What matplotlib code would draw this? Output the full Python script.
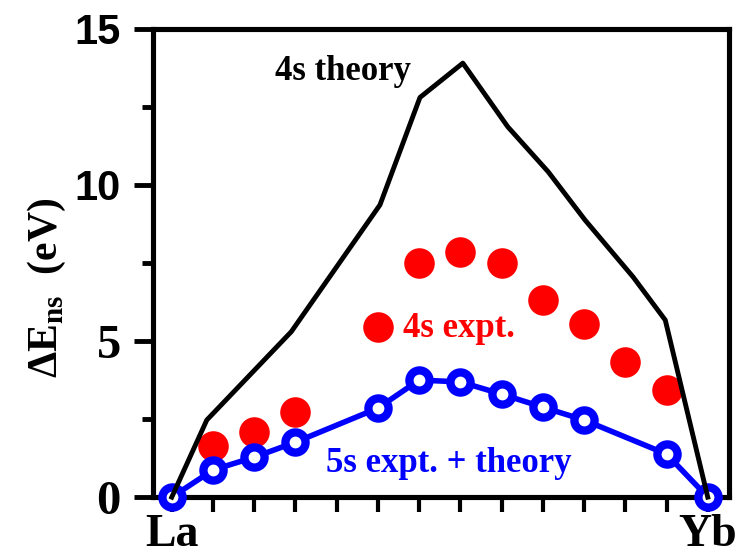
import matplotlib
matplotlib.use("Agg")
import matplotlib.pyplot as plt
import numpy as np

plt.rcParams['font.family'] = ['Liberation Serif', 'DejaVu Serif']
plt.rcParams['font.weight'] = 'bold'
plt.rcParams['mathtext.fontset'] = 'custom'
plt.rcParams['mathtext.rm'] = 'Liberation Serif:bold'
plt.rcParams['mathtext.bf'] = 'Liberation Serif:bold'

# elements La..Yb -> index 0..13
elements = ['La', 'Ce', 'Pr', 'Nd', 'Pm', 'Sm', 'Eu', 'Gd', 'Tb', 'Dy', 'Ho', 'Er', 'Tm', 'Yb']

# 4s theory (black line)
theory4s_x = [0, 0.85, 2.9, 5.05, 6.02, 7.06, 8.15, 9.13, 10.02, 11.19, 11.97, 13]
theory4s_y = [0, 2.47, 5.3, 9.36, 12.8, 13.9, 11.86, 10.42, 8.88, 7.05, 5.67, 0]

# 4s expt. (red dots)
expt4s_x = [1, 2, 3, 5, 6, 7, 8, 9, 10, 11, 12]
expt4s_y = [1.63, 2.08, 2.72, 5.45, 7.5, 7.85, 7.5, 6.31, 5.54, 4.33, 3.43]

# 5s expt. + theory (blue open circles)
ns5_x = [0, 1, 2, 3, 5, 6, 7, 8, 9, 10, 12, 13]
ns5_y = [0, 0.87, 1.28, 1.76, 2.85, 3.75, 3.69, 3.3, 2.88, 2.47, 1.38, 0]

fig = plt.figure(figsize=(7.49, 5.53), dpi=100)
ax = fig.add_axes([0.204, 0.101, 0.769, 0.847])

ax.plot(expt4s_x, expt4s_y, 'o', color='#ff0000', markersize=22, markeredgewidth=0, zorder=3)
ax.plot(ns5_x, ns5_y, '-o', color='#0000ff', linewidth=4, markersize=14.5,
        markeredgewidth=6, markerfacecolor='white', markeredgecolor='#0000ff',
        zorder=4, clip_on=False)
ax.plot(theory4s_x, theory4s_y, '-', color='black', linewidth=3.5, zorder=5, clip_on=False)

ax.set_xlim(-0.46, 13.51)
ax.set_ylim(0, 15)

for s in ax.spines.values():
    s.set_linewidth(3.7)

ax.set_xticks(np.arange(len(elements)))
ax.set_xticklabels(['La'] + [''] * 12 + ['Yb'], fontsize=33, fontweight='bold')
ax.tick_params(axis='x', direction='out', length=11, width=3, pad=1)

ax.set_yticks([0, 5, 10, 15])
ax.set_yticks([2.5, 7.5, 12.5], minor=True)
ax.tick_params(axis='y', which='major', direction='out', length=14, width=3.5, pad=9)
ax.tick_params(axis='y', which='minor', direction='out', length=8, width=3.5)
ax.set_yticklabels(['0', '5', '10', '15'])
for lab, fam, sz in zip(ax.get_yticklabels(),
                        ['Liberation Serif', 'Liberation Serif', 'Liberation Sans', 'Liberation Sans'],
                        [35, 35, 30, 30]):
    lab.set_fontfamily(fam)
    lab.set_fontsize(sz)
    lab.set_fontweight('bold')

fig.text(0.063, 1 - 288 / 553, r'ΔE$_{\rm ns}$  (eV)', rotation=90, ha='center', va='center',
         fontsize=30, fontweight='bold')

ax.text(2.5, 13.37, '4s theory', color='black', fontsize=25, fontweight='bold', ha='left', va='baseline')
ax.text(5.6, 5.13, '4s expt.', color='#ff0000', fontsize=25, fontweight='bold', ha='left', va='baseline')
ax.text(3.74, 0.8, '5s expt. + theory', color='#0000ff', fontsize=25, fontweight='bold', ha='left', va='baseline')

fig.savefig('out.png', dpi=100)
